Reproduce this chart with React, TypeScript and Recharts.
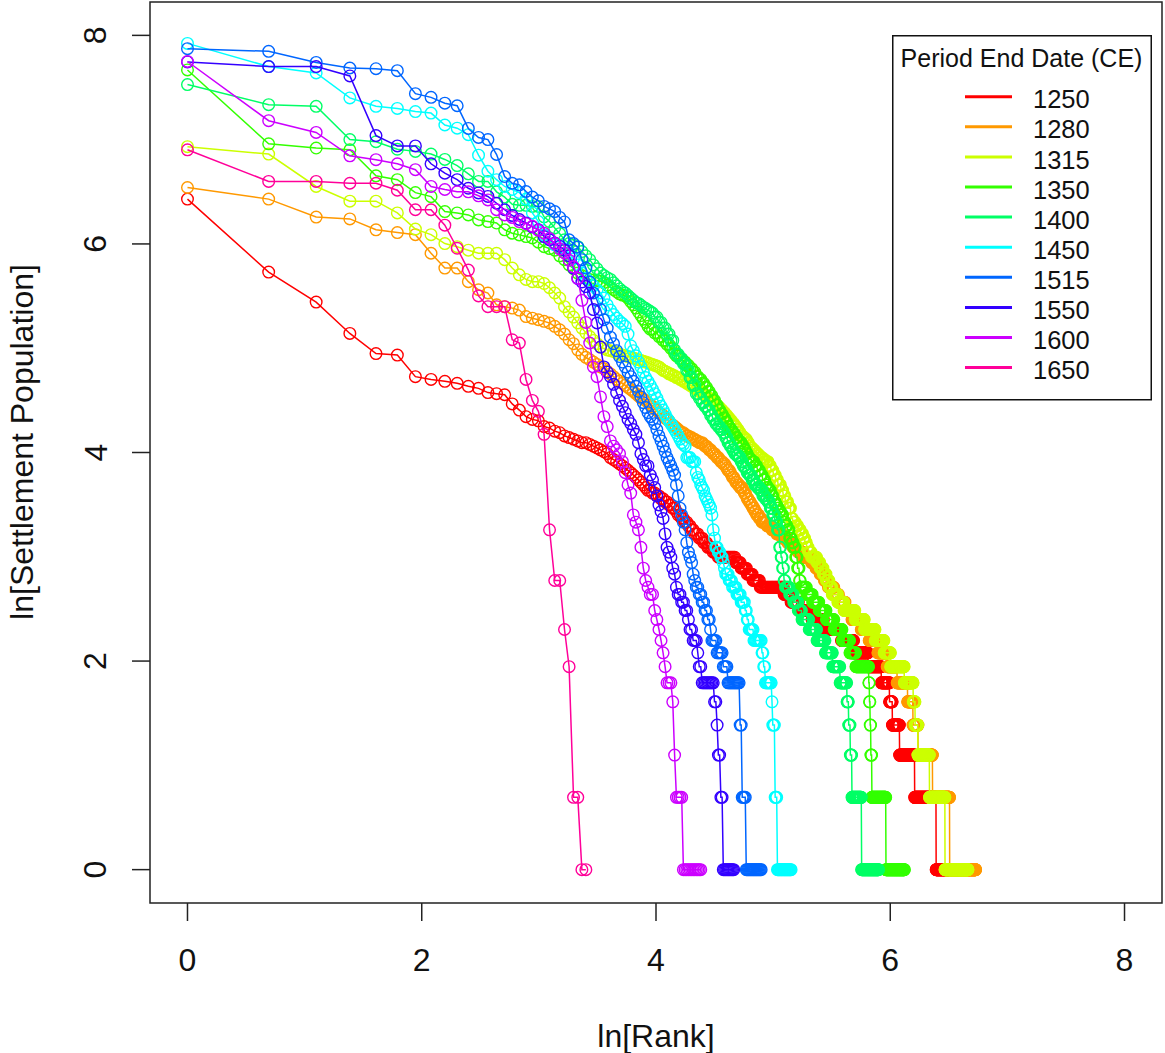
import React from "react";
import { ScatterChart, Scatter, XAxis, YAxis, ReferenceArea, Legend } from "recharts";

// period end dates, one series each, in R's rainbow(10) colours
const years = ["1250", "1280", "1315", "1350", "1400", "1450", "1515", "1550", "1600", "1650"];
const colors = ["#FF0000", "#FF9900", "#CCFF00", "#33FF00", "#00FF66", "#00FFFF", "#0066FF", "#3300FF", "#CC00FF", "#FF0099"];
const axisTicks = [0, 2, 4, 6, 8];

// settlement populations sorted by rank.
// a plain number is one settlement, [pop, n] is n settlements in a row with that population
const pop1250 = [
  620, 308, 231, 171, 141, 139, 113, 110, 108, 106, 103, 101, 97, 96, 95, 87, 82, 77, 75, 74,
  70, 69, 67, 66, 64, 63, 62, 61, [60, 2],
  59, 58, 57, 56, 55, 54, 52, 51, 50, 49,
  48, 47, 46, 45, 44, 43, 42, 41, 40, 39,
  [38, 2], [37, 2], [36, 2], [35, 2], [34, 2],
  [33, 2], [32, 2], 31, [30, 2], [29, 2], [28, 2], [27, 2], [26, 2], [25, 3], [24, 2],
  24, [23, 3], [22, 4], [21, 4],
  [20, 15], [19, 5], [18, 6], [17, 6], [16, 8], [15, 30], [14, 10], [13, 12], [12, 22], [11, 22],
  [10, 37], [9, 30], [8, 38], [7, 40], [6, 27], [5, 10], [4, 26], [3, 60], [2, 100], [1, 70],
];
const pop1280 = [
  693, 620, 522, 513, 462, 450, 441, 369, 320, 320, 281, 260, 252, 225, 221, 218, 214, 201, 198, 195,
  192, 189, 183, 177, 170, 161, 155, 146, 140, 136,
  133, 130, 127, 124, 122, 119, 116, 113, 110, 108,
  106, 104, 102, 100, 98, 96, 94, 92, 91, 90, 88, 86, 85,
  83, 82, 80, 79, 78, 76, 75, 74, 72, 71, 70,
  69, 68, 67, [66, 2], 65, [64, 2], [63, 2], [62, 2], [61, 2], [60, 3],
  59, [58, 2], 57, [56, 2], 55, [54, 2], 53, [52, 2], 51, [50, 2], [49, 2],
  48, 47, [46, 2], 45, 44, [43, 2], 42, [41, 2], [40, 2], [39, 3],
  38, [37, 2], 36, [35, 2], [34, 2], [33, 2], [32, 2], [31, 2], [30, 3], [29, 3],
  [28, 6], [27, 6], [26, 6], [25, 8], [24, 7], [23, 8], [22, 8], [21, 8], [20, 14], [19, 8],
  [18, 8], [17, 8], [16, 8], [15, 12], [14, 10], [13, 15], [12, 16], [11, 24], [10, 22], [9, 26],
  [8, 30], [7, 35], [6, 40], [5, 22], [4, 22], [3, 67], [2, 91], [1, 167],
];
const pop1315 = [
  1025, 955, 700, 608, 608, 543, 465, 441, 405, 393, 380, 369, 369, 369, 347, 320, 300, 287, 281, 281,
  276, 265, 252, 240, 221, 210, 200, 189, 180, 172,
  166, 160, 155, 150, 148, 146, 145, 144, 142, 140,
  139, 138, 137, 136, 135, 134, 133, 132, 131, 130,
  129, 128, 127, 126, 125, 124, 122, 120, 119, 118,
  [116, 2], [114, 2], [112, 2], [110, 2], [108, 2], [106, 2], [104, 2], [102, 2], [100, 2],
  [98, 2], [96, 2], [94, 2], [92, 2], [90, 2], [88, 2], [86, 2], [84, 2], [82, 2], [80, 2], [78, 2],
  [76, 2], [74, 2], [72, 2], [70, 2], [68, 2], [66, 2], [64, 2], [63, 2], [62, 2], [60, 2],
  [58, 2], [57, 2], [56, 2], [55, 2], [54, 2], [53, 2], [52, 3], [51, 3],
  [50, 4], [48, 3], [46, 3], [44, 3], [42, 3], [40, 4], [38, 3], [36, 3], [34, 4], [32, 4], [29, 3],
  [28, 4], [27, 4], [26, 4], [25, 4], [24, 3], [23, 3], [22, 3],
  [21, 5], [20, 10], [19, 6], [18, 6], [17, 6], [16, 6], [15, 6],
  [14, 12], [13, 14], [12, 27], [11, 25], [10, 31],
  [9, 28], [8, 22], [7, 50], [6, 36], [5, 8], [4, 12], [3, 53], [2, 80], [1, 140],
];
const pop1350 = [
  2140, 1054, 1012, 995, 775, 747, 660, 635, 550, 543, 533, 508, 500, 493, 462, 447, 440, 433, 427, 410,
  393, 386, 380, 360, 347, 330, 318, 305, 298, 292, 287,
  285, 284, 282, 278, 272, 266, 260, 255, 250, 247, 245,
  240, 232, 225, 218, 210, 203, 196, 190, 183,
  [178, 2], [172, 2], [166, 2], [160, 2], [154, 2], [148, 2], 141,
  [138, 2], [134, 2], [130, 2], [126, 2], [122, 2], [118, 2], [113, 2],
  [110, 2], [106, 2], [102, 2], [98, 2], [94, 2], [90, 2], [86, 2], [82, 2],
  [79, 2], [76, 2], [73, 2], [70, 2], [68, 2], [66, 2], 65,
  [63, 2], [61, 2], [60, 2], [58, 2], [56, 2], [54, 2], [52, 2], [51, 2],
  [50, 3], [48, 3], [46, 3], [44, 3], [42, 3], [40, 2], [39, 2],
  [38, 3], [36, 3], [34, 3], [33, 2], [32, 2],
  [31, 3], [30, 3], [28, 3], [27, 3], [26, 3], [24, 3], [23, 3], [22, 3], [20, 3], [18, 3], [16, 2],
  [15, 10], [14, 10], [13, 12], [12, 14], [11, 16], [10, 18], [9, 18], [8, 15],
  [7, 35], [6, 2], [5, 2], [4, 2], [3, 3], [2, 44], [1, 67],
];
const pop1400 = [
  1860, 1533, 1510, 1097, 1075, 1000, 980, 955, 907, 855, 790, 735, 735, 665, 632, 590, 584, 584, 578, 578,
  523, 500, 470, 445, 420, 405, 398, 393, 375, 360, 347,
  330, 318, 305, 298, 292, 287, 278, 270, 262, 256, 252,
  246, 240, 235, 230, 228, 224, 220, 217, 214, 211, 208,
  [200, 2], [190, 2], [180, 2], [170, 2], [160, 2], 146,
  [140, 2], [134, 2], [128, 2], [120, 2], [112, 2], [104, 2], [96, 2],
  [92, 2], [88, 2], [85, 2], [82, 2], [78, 2], [75, 2],
  [72, 2], [70, 2], [68, 2], [66, 2], [63, 2], [60, 2], [58, 2],
  [56, 2], [54, 2], [53, 2], [52, 2], [50, 2], [48, 2], [47, 2], [45, 2],
  [44, 3], [42, 3], [40, 3], [39, 3], [38, 3], [36, 3],
  [35, 3], [34, 3], [32, 3], [30, 3],
  [28, 3], [26, 3], [22, 2], [20, 2], [18, 2], [16, 2],
  [15, 6], [14, 6], [13, 7], [12, 6], [11, 12], [10, 14], [9, 16],
  [8, 15], [7, 16], [6, 16], [5, 4], [4, 4], [3, 4], [2, 25], [1, 50],
];
const pop1450 = [
  2760, 2210, 2080, 1636, 1510, 1480, 1436, 1415, 1262, 1224, 1150, 945, 810, 747, 700, 680, 660, 620, 543, 500,
  440, 420, 400, 393, 385, 370, 350, 330, 305, 290,
  280, 270, 260, 252, 240, 225, 214, 205, 198, 192,
  188, 183, 170, 152, 145, 138, 130, 124, 118, 112,
  108, 104, 100, 96, 92, 88, 85, 82, 79, 76,
  74, 72, 70, 68, 66, 64, 62, 60, 59, 58,
  [52, 3], [50, 3], 45, 43, 42, 40, 39, 38, 36, 35, 34, 33, 32, 30,
  26, 24, [22, 2], [21, 2], [20, 2], 19, 18,
  [17, 3], [16, 3], [15, 4], [14, 4], [13, 4], [12, 2], [11, 2], [10, 5], [9, 9], [8, 2], [7, 2],
  [6, 8], 5, [4, 3], [2, 3], [1, 20],
];
const pop1515 = [
  2625, 2557, 2300, 2180, 2165, 2125, 1705, 1645, 1556, 1518, 1221, 1120, 1097, 951, 770, 722, 711, 667, 632, 610,
  578, 565, 550, 520, 498, 420, 405, 391, 347, 320,
  280, 252, 235, 215, 195, 180, 165, 155, 145, 137,
  130, 124, 118, 113, 108, 103, 98, 93, 88, 84, 80, 77, 75, 72, 68, 64, 61, 58, 55, 52, 50, 48, 46, 44, 40, 36,
  32, 30, 28, 26, 23, 21, 20, 19, 17, 16,
  15, 15, 14, 14, 13, 13, 12, 12, 11, 11, 10,
  [9, 4], [8, 5], [7, 4], [6, 11], [4, 2], [2, 4], [1, 17],
];
const pop1550 = [
  2310, 2210, 2210, 2020, 1140, 1033, 1033, 870, 795, 747, 688, 658, 636, 596, 560, 530, 510, 493, 475, 462,
  433, 420, 407, 395, 380, 360, 320, 290, 280, 268, 252, 215, 189, 150,
  124, 118, 113, 105, 97, 90, 85, 80, 75, 72, 68, 65,
  60, 54, 51, 48, 48, 44, 42, 39, 36, 33,
  31, 29, 25, 22, 21, 20, 18, 17, 15, 14,
  14, 13, 13, 12, 12, 11, 10, 10, 9, 9, 9, 8, 7, 7,
  [6, 9], [5, 2], 4, [3, 2], [2, 2], [1, 10],
];
const pop1600 = [
  2320, 1315, 1175, 939, 905, 870, 822, 700, 680, 665, 665, 640, 615, 560, 533, 520, 500, 490, 478, 460,
  447, 425, 405, 385, 370, 345, 324, 290, 235, 190,
  156, 124, 113, 93, 77, 70, 61, 58, 56, 54,
  50, 45, 40, 37, 30, 28, 26, 22, 18, 16,
  15, 14, 14, 12, 11, 10, 9, 8, 7,
  [6, 3], 5, 3, [2, 4], [1, 12],
];
const pop1650 = [
  995, 735, 735, 722, 722, 675, 560, 560, 483, 387, 314, 245, 221, 221, 221, 161, 156, 110, 90, 81,
  65, 26, 16, 16, 10, 7, 2, 2, 1, 1,
];

const populations = [pop1250, pop1280, pop1315, pop1350, pop1400, pop1450, pop1515, pop1550, pop1600, pop1650];

// rank-size points: x = ln(rank), y = ln(population)
const toPoints = (runs: any[]) => {
  const pts: { x: number; y: number }[] = [];
  let rank = 0;
  runs.forEach((r) => {
    const [pop, n] = Array.isArray(r) ? r : [r, 1];
    for (let i = 0; i < n; i++) {
      rank++;
      pts.push({ x: Math.log(rank), y: Math.log(pop) });
    }
  });
  return pts;
};

const FONT = "'Liberation Sans', Arial, sans-serif";

const XTick = (props: any) => (
  <text x={props.x} y={971} textAnchor="middle" fontSize={32} fontFamily={FONT} fill="#111">
    {props.payload.value}
  </text>
);

const YTick = (props: any) => (
  <text
    x={106.5}
    y={props.y}
    transform={`rotate(-90 106.5 ${props.y})`}
    textAnchor="middle"
    fontSize={32}
    fontFamily={FONT}
    fill="#111"
  >
    {props.payload.value}
  </text>
);

const LegendBox = () => (
  <svg width={260} height={366}>
    <rect x={0.75} y={0.75} width={258.5} height={364} fill="#fff" stroke="#111" strokeWidth={1.5} />
    <text x={129.5} y={32} textAnchor="middle" fontSize={25} fontFamily={FONT} fill="#111">
      Period End Date (CE)
    </text>
    {years.map((yr, i) => (
      <g key={yr}>
        <line x1={73} x2={120} y1={61.7 + 30.1 * i} y2={61.7 + 30.1 * i} stroke={colors[i]} strokeWidth={3} />
        <text x={141} y={73.3 + 30.1 * i} fontSize={25.5} fontFamily={FONT} fill="#111">
          {yr}
        </text>
      </g>
    ))}
  </svg>
);

const App = () => {
  return (
    <div style={{ position: "absolute", left: 0, top: 0, width: 1165, height: 1053, background: "#fff" }}>
      <ScatterChart width={1165} height={1053} margin={{ top: 2, right: 3, bottom: 0, left: 0 }}>
        <XAxis
          type="number"
          dataKey="x"
          domain={[-0.32, 8.32]}
          ticks={axisTicks}
          interval={0}
          allowDataOverflow
          height={150}
          tickSize={18}
          axisLine={false}
          tickLine={{ stroke: "#222", strokeWidth: 1.5 }}
          tick={<XTick />}
        />
        <YAxis
          type="number"
          dataKey="y"
          domain={[-0.32, 8.32]}
          ticks={axisTicks}
          interval={0}
          allowDataOverflow
          width={150}
          tickSize={18}
          axisLine={false}
          tickLine={{ stroke: "#222", strokeWidth: 1.5 }}
          tick={<YTick />}
        />
        <ReferenceArea
          x1={-0.32}
          x2={8.32}
          y1={-0.32}
          y2={8.32}
          fill="none"
          fillOpacity={0}
          stroke="#222"
          strokeWidth={1.5}
          ifOverflow="visible"
        />
        {populations.map((pops, i) => (
          <Scatter
            key={years[i]}
            name={years[i]}
            data={toPoints(pops)}
            line={{ stroke: colors[i], strokeWidth: 1.5 }}
            isAnimationActive={false}
            shape={(p: any) => (
              <circle cx={p.cx} cy={p.cy} r={5.8} fill="none" stroke={colors[i]} strokeWidth={1.4} />
            )}
          />
        ))}
        <Legend
          layout="vertical"
          align="center"
          verticalAlign="middle"
          content={() => <LegendBox />}
          wrapperStyle={{ position: "absolute", left: 892, top: 35, width: 260, height: 366 }}
        />
      </ScatterChart>
      <svg width={1165} height={1053} style={{ position: "absolute", left: 0, top: 0, pointerEvents: "none" }}>
        <text x={656} y={1047} textAnchor="middle" fontSize={32} fontFamily={FONT} fill="#111">
          ln[Rank]
        </text>
        <text
          x={33}
          y={442}
          transform="rotate(-90 33 442)"
          textAnchor="middle"
          fontSize={32}
          fontFamily={FONT}
          fill="#111"
        >
          ln[Settlement Population]
        </text>
      </svg>
    </div>
  );
};

export default App;
